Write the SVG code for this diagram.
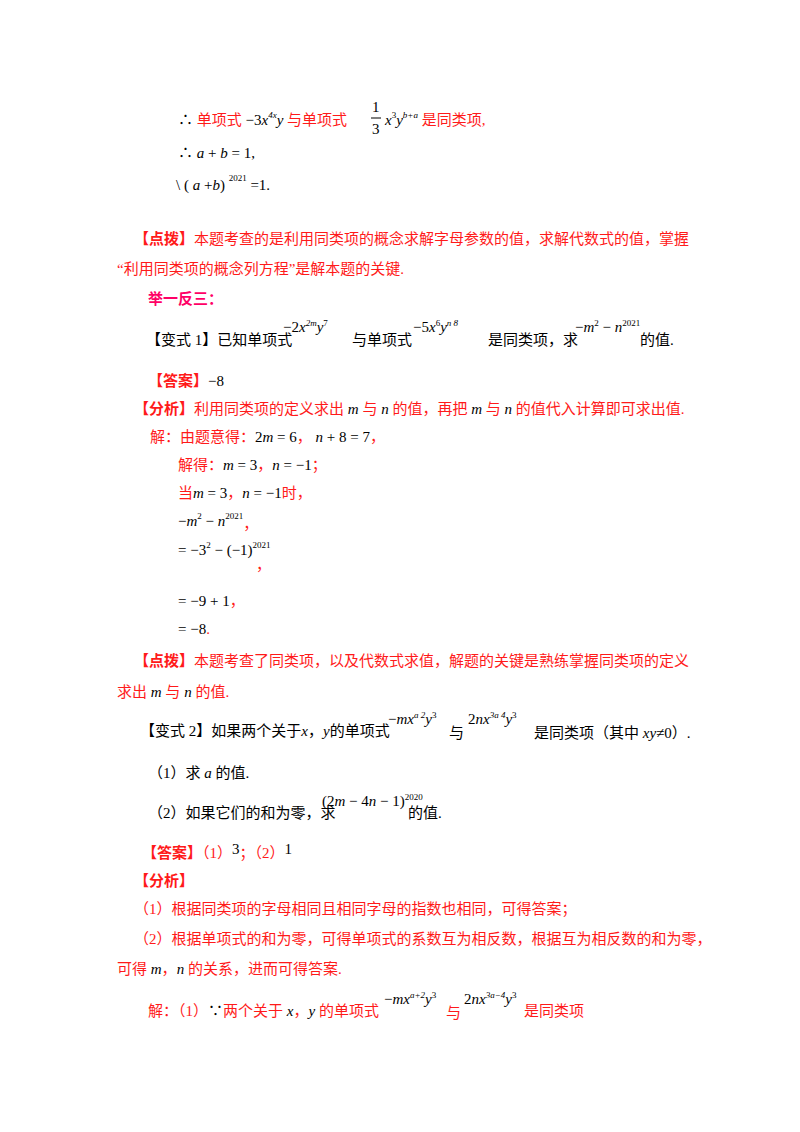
<svg xmlns="http://www.w3.org/2000/svg" width="800" height="1132" viewBox="0 0 800 1132">
<style>
text{font-family:"Liberation Serif","Noto Sans CJK SC",serif;font-size:15px;fill:#000}
.r{fill:#ff1a1a}
.b{font-weight:bold}
.m{fill:#ff0066;font-weight:bold}
.i{font-style:italic}
.s{font-size:9px}
.k{fill:#000}
</style>
<rect width="800" height="1132" fill="#fff"/>
<g id="p1">
<text x="178" y="125">∴ <tspan class="r">单项式</tspan> −3<tspan class="i">x</tspan><tspan class="s i" dy="-7">4x</tspan><tspan class="i" dy="7">y</tspan> <tspan class="r">与单项式</tspan></text>
<text x="372" y="112" font-size="13">1</text><line x1="371" y1="118" x2="381" y2="118" stroke="#000"/><text x="372" y="134" font-size="13">3</text>
<text x="385" y="125"><tspan class="i">x</tspan><tspan class="s" dy="-7">3</tspan><tspan class="i" dy="7">y</tspan><tspan class="s i" dy="-7">b+a</tspan><tspan class="r" dy="7"> 是同类项,</tspan></text>
<text x="178" y="158">∴ <tspan class="i">a</tspan> + <tspan class="i">b</tspan> = 1,</text>
<text x="176" y="190">\ ( <tspan class="i">a</tspan> +<tspan class="i">b</tspan>) <tspan class="s" dy="-9">2021</tspan><tspan dy="9"> =1.</tspan></text>
</g>
<g id="p2">
<text x="134" y="244" class="r"><tspan class="b">【点拨】</tspan>本题考查的是利用同类项的概念求解字母参数的值，求解代数式的值，掌握</text>
<text x="117" y="274" class="r">“利用同类项的概念列方程”是解本题的关键.</text>
<text x="148" y="304" class="m">举一反三：</text>
</g>
<g id="p3">
<text x="146" y="345">【变式 1】已知单项式</text>
<text x="283" y="332">−2<tspan class="i">x</tspan><tspan class="s i" dy="-6">2m</tspan><tspan class="i" dy="6">y</tspan><tspan class="s" dy="-6">7</tspan></text>
<text x="352" y="345">与单项式</text>
<text x="413" y="332">−5<tspan class="i">x</tspan><tspan class="s" dy="-6">6</tspan><tspan class="i" dy="6">y</tspan><tspan class="s i" dy="-6">n  8</tspan></text>
<text x="488" y="345">是同类项，求</text>
<text x="575" y="332">−<tspan class="i">m</tspan><tspan class="s" dy="-6">2</tspan><tspan dy="6"> − </tspan><tspan class="i">n</tspan><tspan class="s" dy="-6">2021</tspan></text>
<text x="640" y="345">的值.</text>
<text x="148" y="386"><tspan class="r b">【答案】</tspan>−8</text>
<text x="134" y="414" class="r"><tspan class="b">【分析】</tspan>利用同类项的定义求出 <tspan class="k i">m</tspan> 与 <tspan class="k i">n</tspan> 的值，再把 <tspan class="k i">m</tspan> 与 <tspan class="k i">n</tspan> 的值代入计算即可求出值.</text>
<text x="150" y="442" class="r">解：由题意得：<tspan class="k">2<tspan class="i">m</tspan> = 6</tspan>， <tspan class="k"><tspan class="i">n</tspan> + 8 = 7</tspan>，</text>
<text x="178" y="470" class="r">解得：<tspan class="k"><tspan class="i">m</tspan> = 3</tspan>，<tspan class="k"><tspan class="i">n</tspan> = −1</tspan>；</text>
<text x="178" y="498" class="r">当<tspan class="k"><tspan class="i">m</tspan> = 3</tspan>，<tspan class="k"><tspan class="i">n</tspan> = −1</tspan>时，</text>
<text x="178" y="526">−<tspan class="i">m</tspan><tspan class="s" dy="-7">2</tspan><tspan dy="7"> − </tspan><tspan class="i">n</tspan><tspan class="s" dy="-7">2021</tspan><tspan class="r" dy="10">，</tspan></text>
<text x="178" y="555">= −3<tspan class="s" dy="-7">2</tspan><tspan dy="7"> − (−1)</tspan><tspan class="s" dy="-7">2021</tspan></text>
<text x="256" y="570" class="r">，</text>
<text x="178" y="606">= −9 + 1<tspan class="r">，</tspan></text>
<text x="178" y="634">= −8<tspan class="r">.</tspan></text>
<text x="134" y="666" class="r"><tspan class="b">【点拨】</tspan>本题考查了同类项，以及代数式求值，解题的关键是熟练掌握同类项的定义</text>
<text x="117" y="697" class="r">求出 <tspan class="k i">m</tspan> 与 <tspan class="k i">n</tspan> 的值.</text>
</g>
<g id="p4">
<text x="140" y="736">【变式 2】如果两个关于<tspan class="i">x</tspan>，<tspan class="i">y</tspan>的单项式</text>
<text x="388" y="724">−<tspan class="i">mx</tspan><tspan class="s i" dy="-6">a  2</tspan><tspan class="i" dy="6">y</tspan><tspan class="s" dy="-6">3</tspan></text>
<text x="449" y="738">与</text>
<text x="468" y="724">2<tspan class="i">nx</tspan><tspan class="s i" dy="-6">3a  4</tspan><tspan class="i" dy="6">y</tspan><tspan class="s" dy="-6">3</tspan></text>
<text x="534" y="738">是同类项（其中 <tspan class="i">xy</tspan>≠0）.</text>
<text x="148" y="778">（1）求 <tspan class="i">a</tspan> 的值.</text>
<text x="148" y="818">（2）如果它们的和为零，求</text>
<text x="322" y="806">(2<tspan class="i">m</tspan> − 4<tspan class="i">n</tspan> − 1)<tspan class="s" dy="-6">2020</tspan></text>
<text x="408" y="818">的值.</text>
<text x="142" y="858" class="r"><tspan class="b">【答案】</tspan>（1）<tspan class="k" dy="-4">3</tspan><tspan dy="4">；（2）</tspan><tspan class="k" dy="-4">1</tspan></text>
<text x="134" y="886" class="r b">【分析】</text>
<text x="134" y="914" class="r">（1）根据同类项的字母相同且相同字母的指数也相同，可得答案；</text>
<text x="134" y="944" class="r">（2）根据单项式的和为零，可得单项式的系数互为相反数，根据互为相反数的和为零，</text>
<text x="117" y="974" class="r">可得 <tspan class="k i">m</tspan>，<tspan class="k i">n</tspan> 的关系，进而可得答案.</text>
<text x="148" y="1016" class="r">解：（1）<tspan class="k">∵</tspan>两个关于 <tspan class="k i">x</tspan>，<tspan class="k i">y</tspan> 的单项式</text>
<text x="384" y="1004">−<tspan class="i">mx</tspan><tspan class="s i" dy="-6">a+2</tspan><tspan class="i" dy="6">y</tspan><tspan class="s" dy="-6">3</tspan></text>
<text x="446" y="1018" class="r">与</text>
<text x="464" y="1004">2<tspan class="i">nx</tspan><tspan class="s i" dy="-6">3a−4</tspan><tspan class="i" dy="6">y</tspan><tspan class="s" dy="-6">3</tspan></text>
<text x="524" y="1016" class="r">是同类项</text>
</g>
</svg>
